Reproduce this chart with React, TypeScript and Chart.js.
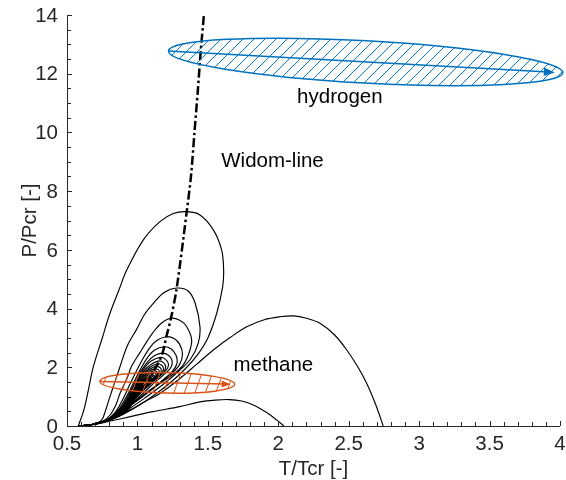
import React, { useEffect, useRef } from "react";
import { Chart, registerables } from "chart.js";
Chart.register(...registerables);

// ---- axis ticks ----
const xTickValues = [0.5, 1, 1.5, 2, 2.5, 3, 3.5, 4];
const yTickValues = [0, 2, 4, 6, 8, 10, 12, 14];
const xMinorStep = 0.1;
const yMinorStep = 0.5;

// ---- contour curves [T/Tcr, P/Pcr] ----
const loop1 = [[0.58,0],[0.62,0.55],[0.655,1.3],[0.687,2.02],[0.746,2.93],[0.805,3.84],[0.87,4.65],[0.924,5.31],[1.042,6.34],[1.16,6.96],[1.255,7.24],[1.35,7.3],[1.444,7.19],[1.539,6.68],[1.598,5.99],[1.612,5.31],[1.605,4.74],[1.563,3.84],[1.5,3.0],[1.43,2.45],[1.34,1.95],[1.22,1.42],[1.08,0.92],[0.93,0.48],[0.78,0.16],[0.66,0.04],[0.58,0]];
const loop2 = [[0.58,0],[0.68,0.05],[0.745,0.2],[0.775,0.55],[0.805,1.0],[0.84,1.5],[0.876,2.02],[0.93,2.75],[0.995,3.3],[1.05,3.8],[1.113,4.18],[1.19,4.55],[1.279,4.7],[1.36,4.6],[1.41,4.18],[1.444,3.38],[1.432,2.82],[1.38,2.3],[1.3,1.9],[1.19,1.45],[1.06,0.98],[0.93,0.55],[0.8,0.2],[0.68,0.05],[0.58,0]];
const loop3 = [[0.58,0],[0.68,0.05],[0.76,0.18],[0.81,0.4],[0.85,0.75],[0.876,1.11],[0.924,1.6],[0.96,2.05],[1.018,2.5],[1.07,2.9],[1.113,3.2],[1.17,3.5],[1.238,3.67],[1.3,3.6],[1.35,3.38],[1.385,2.93],[1.365,2.47],[1.32,2.05],[1.24,1.72],[1.14,1.38],[1.03,1.0],[0.92,0.58],[0.8,0.22],[0.68,0.05],[0.58,0]];
const loop4 = [[0.58,0],[0.68,0.05],[0.77,0.18],[0.84,0.45],[0.89,0.85],[0.94,1.35],[0.99,1.85],[1.04,2.3],[1.09,2.68],[1.14,2.92],[1.205,3.04],[1.26,2.98],[1.3,2.78],[1.32,2.45],[1.3,2.1],[1.24,1.78],[1.15,1.45],[1.05,1.08],[0.95,0.72],[0.85,0.38],[0.76,0.15],[0.68,0.05],[0.58,0]];
const loop5 = [[0.58,0],[0.68,0.05],[0.78,0.2],[0.86,0.52],[0.92,0.98],[0.97,1.45],[1.02,1.92],[1.07,2.32],[1.12,2.58],[1.19,2.7],[1.24,2.62],[1.275,2.4],[1.28,2.12],[1.245,1.84],[1.17,1.52],[1.08,1.16],[0.98,0.8],[0.87,0.42],[0.77,0.16],[0.68,0.05],[0.58,0]];
const loop6 = [[0.58,0],[0.68,0.05],[0.79,0.22],[0.88,0.6],[0.94,1.08],[0.99,1.55],[1.04,1.98],[1.09,2.28],[1.13,2.42],[1.178,2.48],[1.22,2.41],[1.245,2.24],[1.24,2.02],[1.2,1.8],[1.13,1.52],[1.06,1.2],[0.98,0.85],[0.88,0.46],[0.78,0.17],[0.68,0.05],[0.58,0]];
const loop7 = [[0.58,0],[0.68,0.05],[0.8,0.24],[0.895,0.65],[0.955,1.15],[1.005,1.6],[1.05,1.98],[1.1,2.22],[1.165,2.34],[1.2,2.27],[1.22,2.12],[1.21,1.94],[1.17,1.74],[1.11,1.5],[1.045,1.22],[0.98,0.9],[0.89,0.5],[0.79,0.19],[0.68,0.05],[0.58,0]];
const loop8 = [[0.58,0],[0.68,0.05],[0.81,0.26],[0.905,0.7],[0.965,1.2],[1.015,1.64],[1.06,1.95],[1.11,2.14],[1.155,2.22],[1.185,2.16],[1.2,2.03],[1.19,1.87],[1.15,1.69],[1.1,1.49],[1.04,1.24],[0.98,0.93],[0.9,0.54],[0.8,0.21],[0.68,0.05],[0.58,0]];
const loop9 = [[0.58,0],[0.68,0.05],[0.82,0.28],[0.915,0.74],[0.975,1.25],[1.025,1.67],[1.07,1.93],[1.11,2.06],[1.145,2.12],[1.172,2.07],[1.185,1.96],[1.175,1.82],[1.14,1.66],[1.095,1.48],[1.04,1.26],[0.985,0.96],[0.91,0.58],[0.81,0.23],[0.68,0.05],[0.58,0]];
const loop10 = [[0.58,0],[0.68,0.05],[0.83,0.3],[0.925,0.78],[0.985,1.29],[1.035,1.68],[1.075,1.9],[1.105,1.98],[1.135,2.03],[1.16,1.99],[1.17,1.9],[1.16,1.78],[1.13,1.64],[1.09,1.47],[1.04,1.28],[0.99,0.99],[0.92,0.62],[0.82,0.25],[0.68,0.05],[0.58,0]];
const loop11 = [[0.58,0],[0.68,0.05],[0.84,0.32],[0.935,0.82],[0.995,1.33],[1.045,1.69],[1.08,1.86],[1.105,1.92],[1.126,1.95],[1.147,1.92],[1.155,1.85],[1.145,1.75],[1.12,1.63],[1.085,1.47],[1.04,1.3],[0.995,1.02],[0.93,0.66],[0.83,0.27],[0.68,0.05],[0.58,0]];
const loop12 = [[0.58,0],[0.68,0.05],[0.85,0.34],[0.945,0.86],[1.005,1.37],[1.055,1.7],[1.09,1.83],[1.118,1.88],[1.137,1.85],[1.143,1.79],[1.133,1.71],[1.11,1.61],[1.08,1.48],[1.04,1.32],[1.0,1.05],[0.94,0.7],[0.84,0.29],[0.68,0.05],[0.58,0]];
const loop13 = [[0.58,0],[0.68,0.05],[0.86,0.36],[0.955,0.9],[1.015,1.4],[1.065,1.7],[1.11,1.82],[1.13,1.78],[1.132,1.72],[1.12,1.64],[1.1,1.56],[1.075,1.47],[1.04,1.34],[1.005,1.08],[0.95,0.74],[0.85,0.31],[0.68,0.05],[0.58,0]];
const loop14 = [[0.58,0],[0.68,0.05],[0.87,0.38],[0.962,0.93],[1.022,1.42],[1.07,1.66],[1.103,1.74],[1.12,1.71],[1.122,1.66],[1.11,1.59],[1.09,1.52],[1.065,1.44],[1.035,1.34],[1.008,1.1],[0.955,0.77],[0.86,0.33],[0.68,0.05],[0.58,0]];
const loop15 = [[0.58,0],[0.68,0.05],[0.88,0.4],[0.968,0.96],[1.028,1.44],[1.07,1.63],[1.097,1.7],[1.112,1.67],[1.113,1.62],[1.1,1.56],[1.08,1.49],[1.058,1.42],[1.032,1.34],[1.01,1.12],[0.96,0.8],[0.87,0.35],[0.68,0.05],[0.58,0]];
const loop16 = [[0.58,0],[0.68,0.05],[0.89,0.42],[0.974,0.99],[1.033,1.46],[1.07,1.61],[1.091,1.66],[1.104,1.63],[1.104,1.59],[1.092,1.53],[1.073,1.47],[1.052,1.4],[1.03,1.33],[1.012,1.14],[0.965,0.83],[0.88,0.37],[0.68,0.05],[0.58,0]];
const loop17 = [[0.58,0],[0.68,0.05],[0.9,0.44],[0.98,1.02],[1.038,1.47],[1.068,1.57],[1.085,1.62],[1.096,1.6],[1.096,1.56],[1.085,1.51],[1.067,1.45],[1.047,1.39],[1.028,1.32],[1.014,1.16],[0.97,0.86],[0.89,0.39],[0.68,0.05],[0.58,0]];
const loop18 = [[0.58,0],[0.68,0.05],[0.91,0.46],[0.985,1.04],[1.04,1.46],[1.065,1.54],[1.08,1.58],[1.09,1.56],[1.089,1.52],[1.078,1.48],[1.06,1.42],[1.043,1.37],[1.026,1.3],[1.015,1.17],[0.975,0.89],[0.9,0.41],[0.68,0.05],[0.58,0]];
const loop19 = [[0.58,0],[0.68,0.05],[0.92,0.48],[0.99,1.06],[1.042,1.44],[1.063,1.51],[1.075,1.54],[1.083,1.52],[1.082,1.49],[1.072,1.45],[1.055,1.4],[1.04,1.35],[1.025,1.28],[1.015,1.18],[0.98,0.92],[0.91,0.43],[0.68,0.05],[0.58,0]];
const curveHigh = [[0.58,0],[0.68,0.05],[0.8,0.2],[0.95,0.55],[1.06,0.85],[1.16,1.11],[1.302,1.62],[1.42,2.1],[1.539,2.59],[1.66,3.02],[1.776,3.38],[1.9,3.62],[2.012,3.72],[2.107,3.75],[2.2,3.67],[2.296,3.5],[2.4,3.1],[2.486,2.59],[2.56,2.05],[2.628,1.45],[2.69,0.75],[2.745,0]];
const curveLow = [[0.58,0],[0.68,0.04],[0.8,0.16],[0.95,0.32],[1.11,0.49],[1.3,0.66],[1.444,0.82],[1.55,0.88],[1.65,0.9],[1.74,0.85],[1.83,0.7],[1.92,0.45],[1.99,0.2],[2.04,0]];
const contours = [loop1, loop2, loop3, loop4, loop5, loop6, loop7, loop8, loop9, loop10, loop11, loop12, loop13, loop14, loop15, loop16, loop17, loop18, loop19, curveHigh, curveLow];

// ---- Widom line ----
const widomLine = [[1.07,1.35],[1.11,1.82],[1.145,2.12],[1.178,2.48],[1.205,3.04],[1.238,3.67],[1.279,4.7],[1.35,7.3],[1.38,8.5],[1.405,10.0],[1.43,11.5],[1.449,12.75],[1.472,14.0]];

// ---- ellipses (start, end, half width in P/Pcr) ----
const hydrogenFrom = [1.22, 12.77];
const hydrogenTo = [4.02, 12.03];
const hydrogenHalfWidth = 0.72;
const methaneFrom = [0.734, 1.52];
const methaneTo = [1.69, 1.42];
const methaneHalfWidth = 0.35;

// ---- labels ----
const labelTexts = ["hydrogen", "Widom-line", "methane"];
const labelT = [2.437, 1.959, 1.965];
const labelP = [11.2, 9.0, 2.08];

const BLUE = "rgb(0,114,189)";
const ORANGE = "rgb(217,83,25)";
const AXIS = "#262626";
const FONT = "'Liberation Sans', Arial, Helvetica, sans-serif";
const FONT_SIZE = 20.5;

function drawEllipse(chart: any, from: number[], to: number[], hw: number, color: string, hatchDeg: number, spacing: number, tipInset: number, headLen: number) {
  const ctx = chart.ctx;
  const xs = chart.scales.x, ys = chart.scales.y;
  const x1 = xs.getPixelForValue(from[0]), y1 = ys.getPixelForValue(from[1]);
  const x2 = xs.getPixelForValue(to[0]), y2 = ys.getPixelForValue(to[1]);
  const cx = (x1 + x2) / 2, cy = (y1 + y2) / 2;
  const a = Math.hypot(x2 - x1, y2 - y1) / 2;
  const ang = Math.atan2(y2 - y1, x2 - x1);
  const b = Math.abs(ys.getPixelForValue(0) - ys.getPixelForValue(hw));
  ctx.save();
  ctx.beginPath();
  ctx.ellipse(cx, cy, a, b, ang, 0, Math.PI * 2);
  ctx.save();
  ctx.clip();
  const th = (hatchDeg * Math.PI) / 180;
  const dx = Math.cos(th), dy = -Math.sin(th);
  ctx.strokeStyle = color;
  ctx.lineWidth = 1;
  ctx.beginPath();
  for (let x0 = cx - a - 80; x0 <= cx + a + 80; x0 += spacing) {
    ctx.moveTo(x0 - dx * 120, cy - dy * 120);
    ctx.lineTo(x0 + dx * 120, cy + dy * 120);
  }
  ctx.stroke();
  ctx.restore();
  ctx.beginPath();
  ctx.ellipse(cx, cy, a, b, ang, 0, Math.PI * 2);
  ctx.strokeStyle = color;
  ctx.lineWidth = 1.5;
  ctx.stroke();
  // arrow
  const ux = Math.cos(ang), uy = Math.sin(ang);
  const tx = x2 - ux * tipInset, ty = y2 - uy * tipInset;
  ctx.beginPath();
  ctx.moveTo(x1, y1);
  ctx.lineTo(tx - ux * headLen * 0.6, ty - uy * headLen * 0.6);
  ctx.lineWidth = 1.5;
  ctx.stroke();
  ctx.beginPath();
  ctx.moveTo(tx, ty);
  ctx.lineTo(tx - ux * headLen - uy * headLen * 0.38, ty - uy * headLen + ux * headLen * 0.38);
  ctx.lineTo(tx - ux * headLen + uy * headLen * 0.38, ty - uy * headLen - ux * headLen * 0.38);
  ctx.closePath();
  ctx.fillStyle = color;
  ctx.fill();
  ctx.restore();
}

const overlayPlugin = {
  id: "overlay",
  afterDatasetsDraw(chart: any) {
    drawEllipse(chart, methaneFrom, methaneTo, methaneHalfWidth, ORANGE, 70, 10.5, 4, 9);
    drawEllipse(chart, hydrogenFrom, hydrogenTo, hydrogenHalfWidth, BLUE, 45, 11, 8, 11);
    const ctx = chart.ctx;
    const xs = chart.scales.x, ys = chart.scales.y;
    ctx.save();
    ctx.fillStyle = "#000";
    ctx.font = `${FONT_SIZE}px ${FONT}`;
    ctx.textAlign = "center";
    ctx.textBaseline = "middle";
    labelTexts.forEach((t, i) => {
      ctx.fillText(t, xs.getPixelForValue(labelT[i]), ys.getPixelForValue(labelP[i]));
    });
    ctx.restore();
  },
  afterDraw(chart: any) {
    const ctx = chart.ctx;
    const { left, right, top, bottom } = chart.chartArea;
    const xs = chart.scales.x, ys = chart.scales.y;
    ctx.save();
    ctx.strokeStyle = AXIS;
    ctx.lineWidth = 1;
    ctx.beginPath();
    ctx.moveTo(left + 0.5, top);
    ctx.lineTo(left + 0.5, bottom + 0.5);
    ctx.lineTo(right, bottom + 0.5);
    ctx.stroke();
    ctx.beginPath();
    for (let v = xs.min; v <= xs.max + 1e-9; v += xMinorStep) {
      const px = Math.round(xs.getPixelForValue(v)) + 0.5;
      const isMajor = xTickValues.some((m) => Math.abs(m - v) < 1e-6);
      const len = isMajor ? 5 : 4;
      ctx.moveTo(px, bottom);
      ctx.lineTo(px, bottom - len);
    }
    for (let v = ys.min; v <= ys.max + 1e-9; v += yMinorStep) {
      const py = Math.round(ys.getPixelForValue(v)) + 0.5;
      const isMajor = yTickValues.some((m) => Math.abs(m - v) < 1e-6);
      const len = isMajor ? 5 : 4;
      ctx.moveTo(left, py);
      ctx.lineTo(left + len, py);
    }
    ctx.stroke();
    // tick labels
    ctx.fillStyle = AXIS;
    ctx.font = `${FONT_SIZE}px ${FONT}`;
    ctx.textAlign = "center";
    ctx.textBaseline = "middle";
    xTickValues.forEach((v) => {
      ctx.fillText(String(v), xs.getPixelForValue(v), bottom + 18);
    });
    ctx.textAlign = "right";
    yTickValues.forEach((v) => {
      ctx.fillText(String(v), left - 9, ys.getPixelForValue(v) + 1);
    });
    // axis titles
    ctx.textAlign = "center";
    ctx.fillText("T/Tcr [-]", (left + right) / 2, bottom + 43);
    ctx.translate(30, (top + bottom) / 2);
    ctx.rotate(-Math.PI / 2);
    ctx.fillText("P/Pcr [-]", 0, 0);
    ctx.restore();
  },
};

export default function App() {
  const ref = useRef<HTMLCanvasElement | null>(null);
  useEffect(() => {
    if (!ref.current) return;
    const toXY = (arr: number[][]) => arr.map(([x, y]) => ({ x, y }));
    const datasets: any[] = contours.map((c) => ({
      data: toXY(c),
      showLine: true,
      borderColor: "#000",
      borderWidth: 1.15,
      pointRadius: 0,
      tension: 0.35,
      fill: false,
    }));
    datasets.push({
      data: toXY(widomLine),
      showLine: true,
      borderColor: "#000",
      borderWidth: 2.5,
      borderDash: [9, 3, 2.5, 3],
      pointRadius: 0,
      tension: 0.3,
      fill: false,
    });
    const chart = new Chart(ref.current, {
      type: "scatter",
      data: { datasets },
      options: {
        animation: false,
        responsive: false,
        devicePixelRatio: 1,
        events: [],
        layout: { padding: { left: 0, right: 6, top: 15, bottom: 0 } },
        plugins: { legend: { display: false }, tooltip: { enabled: false } },
        scales: {
          x: {
            type: "linear",
            min: 0.5,
            max: 4,
            grid: { display: false },
            border: { display: false },
            ticks: { display: false },
            afterFit: (s: any) => {
              s.height = 54;
            },
          },
          y: {
            type: "linear",
            min: 0,
            max: 14,
            grid: { display: false },
            border: { display: false },
            ticks: { display: false },
            afterFit: (s: any) => {
              s.width = 67;
            },
          },
        },
      } as any,
      plugins: [overlayPlugin],
    });
    return () => chart.destroy();
  }, []);
  return (
    <div style={{ position: "absolute", left: 0, top: 0, width: 566, height: 480, background: "#fff" }}>
      <canvas ref={ref} width={566} height={480} />
    </div>
  );
}
